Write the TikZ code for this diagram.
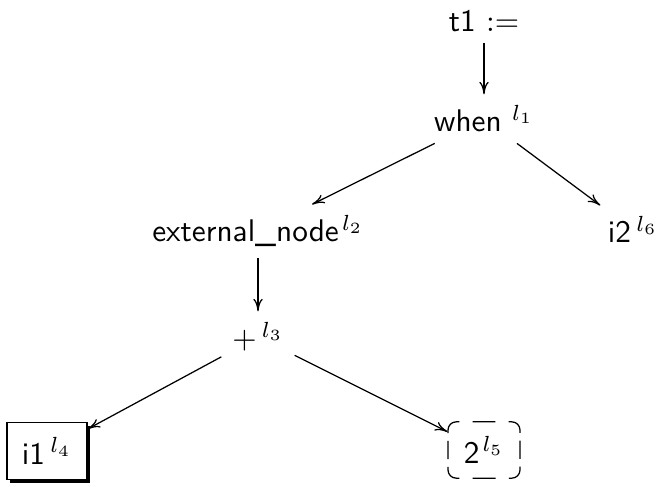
\documentclass[tikz,border=0pt]{standalone}
\usepackage{tikz}
\usetikzlibrary{shadows,arrows.meta}

\begin{document}
\begin{tikzpicture}[
    x=0.01123cm, y=-0.01123cm,
    every node/.style={font=\sffamily},
    arrow/.style={-{To[length=4pt,width=3pt]}},
    shadowbox/.style={rectangle, draw=black, fill=white, inner sep=0pt,
        minimum width=25.6pt, minimum height=18.2pt,
        drop shadow={shadow xshift=1pt, shadow yshift=-1pt, fill=black, opacity=1}},
    dashbox/.style={rectangle, draw, rounded corners=2.6pt, inner sep=0pt,
        minimum width=23pt, minimum height=18pt,
        dash pattern=on 7.3pt off 4.25pt on 6.08pt off 2.5pt on 5.8pt off 2.5pt on 6.08pt off 4.25pt,
        dash phase=33.51pt}
]
    \useasboundingbox (0,0) rectangle (656,487);

    % tree levels, placed on their baselines
    \node (t1) [anchor=base] at (484,32) {t1 $:=$};
    \node (when) [anchor=base] at (484,132) {when\ $^{l_1}$};
    \node (ext) [anchor=base] at (258,242) {external\_node\kern1pt$^{l_2}$};
    \node (i2) [anchor=base] at (633,243) {i2\,$^{l_6}$};
    \node (plus) [anchor=base] at (258,349) {$+$\,$^{l_3}$};
    \node (i1) [shadowbox] at (47,451) {i1\,$^{l_4}$};
    \node (two) [dashbox] at (484,450) {2\kern1pt$^{l_5}$};

    \draw [arrow] (t1) -- (when);
    \draw [arrow] (when) -- (ext);
    \draw [arrow] (when) -- (i2);
    \draw [arrow] (ext) -- (plus);
    \draw [arrow] (plus) -- (i1);
    \draw [arrow] (plus) -- (two);
\end{tikzpicture}
\end{document}
